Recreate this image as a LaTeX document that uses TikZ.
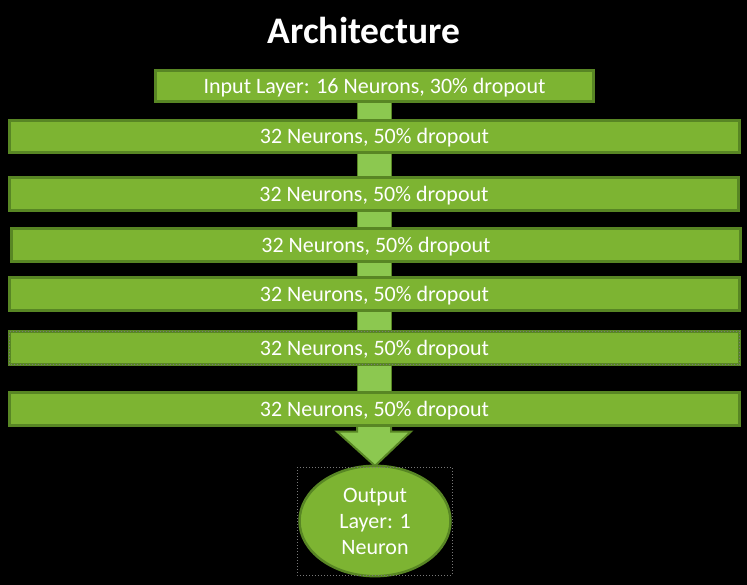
\documentclass[tikz,border=0pt]{standalone}
\usepackage{fontspec}
\setmainfont{Carlito}
\usetikzlibrary{calc,shapes.geometric}
\definecolor{barfill}{RGB}{125,180,50}
\definecolor{barline}{RGB}{88,134,36}
\definecolor{stemfill}{RGB}{140,200,80}
\definecolor{selgray}{RGB}{120,120,120}
\pgfdeclarelayer{bgl}
\pgfdeclarelayer{stl}
\pgfsetlayers{bgl,stl,main}
\tikzset{
  layerbox/.style={rectangle, fill=barfill, draw=barline, line width=3pt,
    text=white, font=\fontsize{22}{26}\selectfont, inner sep=0pt, outer sep=0pt,
    text height=14.2pt, text depth=0pt},
  stembox/.style={fill=stemfill, draw=barline, line width=1pt},
  outnode/.style={ellipse, fill=barfill, draw=barline, line width=2.5pt,
    text=white, font=\fontsize{22}{26}\selectfont, align=center,
    inner sep=0pt, outer sep=0pt, minimum width=151pt, minimum height=104pt},
  selbox/.style={draw=selgray, dotted, line width=1pt}
}
\begin{document}
\begin{tikzpicture}[x=1pt,y=-1pt]
\begin{pgfonlayer}{bgl}
\fill[black] (0,0) rectangle (747,585);
\end{pgfonlayer}
\useasboundingbox (0,0) rectangle (747,585);
\node[text=white, font=\bfseries\fontsize{37.5}{40}\selectfont, inner sep=0pt,
  text height=24pt, text depth=0pt] (title) at (364,31.5) {Architecture};
\node[layerbox, minimum width=438pt, minimum height=31pt] (in) at (374.5,86) {Input Layer: 16 Neurons, 30\% dropout};
\node[layerbox, minimum width=730pt, minimum height=32pt] (h1) at (374.5,136.5) {32 Neurons, 50\% dropout};
\node[layerbox, minimum width=729pt, minimum height=33pt] (h2) at (374,194) {32 Neurons, 50\% dropout};
\node[layerbox, minimum width=729pt, minimum height=33pt] (h3) at (376,245) {32 Neurons, 50\% dropout};
\node[layerbox, minimum width=730pt, minimum height=33pt] (h4) at (374.5,294) {32 Neurons, 50\% dropout};
\node[layerbox, minimum width=730pt, minimum height=33pt] (h5) at (374.5,348) {32 Neurons, 50\% dropout};
\node[layerbox, minimum width=730pt, minimum height=33pt] (h6) at (374.5,409) {32 Neurons, 50\% dropout};
\node[outnode] (out) at (375,521) {\raisebox{-2pt}[\height][\depth]{\begin{tabular}{@{}c@{}}Output\\Layer: 1\\Neuron\end{tabular}}};
\draw[selbox] (h5.south west) rectangle (h5.north east);
\draw[selbox] (297,467) rectangle (452,575);
\coordinate (sx) at (374,0);
\path (sx |- h6.south) ++(0,6) coordinate (hb);
\begin{pgfonlayer}{stl}
\foreach \a/\b in {in/h1,h1/h2,h2/h3,h3/h4,h4/h5,h5/h6}{
  \draw[stembox] ([xshift=-17pt]sx |- \a.south) rectangle ([xshift=17pt]sx |- \b.north);
}
\draw[stembox, line width=2pt, line join=miter]
  ([xshift=-17pt]sx |- h6.south) -- ([xshift=-17pt]hb) -- ([xshift=-37pt]hb) -- (out.north)
  -- ([xshift=37pt]hb) -- ([xshift=17pt]hb) -- ([xshift=17pt]sx |- h6.south) -- cycle;
\end{pgfonlayer}
\end{tikzpicture}
\end{document}
